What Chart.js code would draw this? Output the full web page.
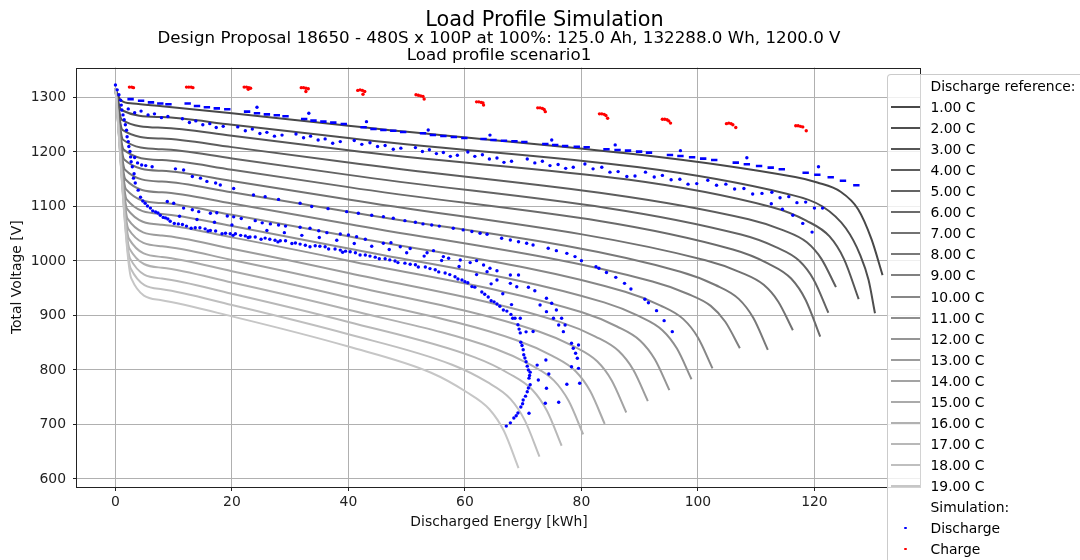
<!DOCTYPE html>
<html><head><meta charset="utf-8">
<script src="https://cdn.jsdelivr.net/npm/chart.js@4.4.1/dist/chart.umd.min.js"></script>
<style>
html,body{margin:0;padding:0;background:#fff;}
body{width:1080px;height:560px;overflow:hidden;position:relative;font-family:'DejaVu Sans',sans-serif;color:#000;}
#c{position:absolute;left:0;top:0;}
.ttl{position:absolute;left:0;text-align:center;white-space:nowrap;color:#000;}
#suptitle{top:6.6px;width:1089px;font-size:20.8px;line-height:24px;}
.sub{width:998px;font-size:16.7px;line-height:20px;}
#legend{position:absolute;left:886.5px;top:74px;width:260px;height:520px;border:1px solid rgba(200,200,200,0.95);border-radius:4px;background:rgba(255,255,255,0.8);}
.row{position:absolute;left:0;height:20px;line-height:20px;font-size:13.9px;white-space:nowrap;width:250px;color:#000;}
.row .txt{position:absolute;left:43px;top:0;}
.row .hl{position:absolute;left:3.5px;width:29px;height:2px;top:9px;}
.row .dot{position:absolute;left:16.9px;top:8.7px;width:2.6px;height:2.6px;border-radius:50%;}
</style></head>
<body>
<canvas id="c" width="1080" height="560"></canvas>
<div id="suptitle" class="ttl">Load Profile Simulation</div>
<div class="ttl sub" style="top:26.9px">Design Proposal 18650 - 480S x 100P at 100%: 125.0 Ah, 132288.0 Wh, 1200.0 V</div>
<div class="ttl sub" style="top:44.2px">Load profile scenario1</div>
<div id="legend"></div>
<script>
// ---------- data ----------
const xTicks = [0, 20, 40, 60, 80, 100, 120];
const yTicks = [600, 700, 800, 900, 1000, 1100, 1200, 1300];
const cRateLabels = ['1.00 C','2.00 C','3.00 C','4.00 C','5.00 C','6.00 C','7.00 C','8.00 C','9.00 C','10.00 C','11.00 C','12.00 C','13.00 C','14.00 C','15.00 C','16.00 C','17.00 C','18.00 C','19.00 C'];

// reference discharge curves: [energy kWh, voltage V]
const curve01 = [[0,1316],[0.9,1295],[3,1289],[8,1284],[20,1271],[40,1248],[116.7,1154],[120.5,1144],[124.5,1127],[127.5,1095],[129.8,1040],[131.7,974]];
const curve02 = [[0,1316],[1.0,1277],[8,1264],[20,1250],[40,1225.5],[115.4,1123],[121.4,1100],[125.4,1060],[127.9,1010],[129.3,965],[130.4,904]];
const curve03 = [[0,1316],[1.1,1259],[8,1244.5],[20,1229.6],[40,1203],[112.6,1099],[118.6,1074],[122.6,1045],[125.1,1003],[127.6,930]];
const curve04 = [[0,1316],[1.2,1240.6],[8,1224.7],[20,1208.9],[40,1180.5],[108.7,1076.6],[114.7,1056.1],[118.7,1034.3],[121.2,1003.9],[123.7,952]];
const curve05 = [[0,1316],[1.3,1222.4],[8,1205],[20,1188.2],[40,1158],[107.4,1048.5],[113.4,1025.4],[117.4,1000.4],[119.9,965.3],[122.4,905]];
const curve06 = [[0,1316],[1.4,1204.3],[8,1185.2],[20,1167.5],[40,1135.5],[106,1021],[112,995.6],[116,967.8],[118.5,928.5],[121,861]];
const curve07 = [[0,1316],[1.5,1186.2],[8,1165.4],[20,1146.8],[40,1113],[101.3,1001.4],[107.3,979.2],[111.3,956.2],[113.8,925.2],[116.3,873]];
const curve08 = [[0,1316],[1.6,1168],[8,1145.7],[20,1126.1],[40,1090.5],[97,980.3],[103,955.9],[107,930.5],[109.5,895.7],[112,837]];
const curve09 = [[0,1316],[1.7,1149.9],[8,1125.9],[20,1105.4],[40,1068],[92.2,962.3],[98.2,939.9],[102.2,917.6],[104.7,888.4],[107.2,840]];
const curve10 = [[0,1316],[1.8,1131.7],[8,1106.2],[20,1084.7],[40,1045.5],[87.5,943.5],[93.5,918.6],[97.5,893.3],[100,859.6],[102.5,803]];
const curve11 = [[0,1316],[1.9,1113.6],[8,1086.4],[20,1064],[40,1023],[83.9,924.1],[89.9,898.7],[93.9,873.1],[96.4,839.3],[98.9,783]];
const curve12 = [[0,1316],[2.0,1095.5],[8,1066.6],[20,1043.3],[40,1000.5],[80.1,905.8],[86.1,879.8],[90.1,853.8],[92.6,819.7],[95.1,763]];
const curve13 = [[0,1316],[2.1,1077.3],[8,1046.9],[20,1022.6],[40,978],[76.4,887.9],[82.4,861.3],[86.4,834.7],[88.9,800.3],[91.4,743]];
const curve14 = [[0,1316],[2.2,1059.2],[8,1027.1],[20,1001.9],[40,955.5],[72.7,870.7],[78.7,843.2],[82.7,815.9],[85.2,780.7],[87.7,722]];
const curve15 = [[0,1316],[2.3,1041],[8,1007.4],[20,981.2],[40,933],[69,854.2],[75,825.8],[79,797.6],[81.5,761.3],[84,701]];
const curve16 = [[0,1316],[2.4,1022.9],[8,987.6],[20,960.5],[40,910.5],[65.3,838.6],[71.3,809.3],[75.3,780.5],[77.8,743.4],[80.3,682]];
const curve17 = [[0,1316],[2.5,1004.8],[8,967.8],[20,939.8],[40,888],[61.6,823.5],[67.6,793.1],[71.6,763.2],[74.1,724.7],[76.6,661]];
const curve18 = [[0,1316],[2.6,986.6],[8,948.1],[20,919.1],[40,865.5],[57.8,809.6],[63.8,778],[67.8,747],[70.3,707.1],[72.8,641]];
const curve19 = [[0,1316],[2.7,968.5],[7.7,928.3],[20,898.4],[40,843],[54.2,795],[60.2,760],[64.2,728],[66.7,688],[69.2,620]];

// simulation: discharge
const dischargeStart = [[0,1323],[0.3,1314],[0.6,1305],[0.9,1295],[1.0,1286],[1.1,1277],[1.3,1268],[1.5,1259],[1.7,1250],[1.9,1240],[2.0,1228],[2.2,1219],[2.3,1210],[2.5,1201],[2.6,1191],[2.7,1182],[2.9,1173],[3.2,1160],[3.3,1190],[3.8,1180],[4.5,1176],[5.2,1175],[3.1,1152]];
const dischargeRowA = [[2.6,1297],[4.4,1294],[6.1,1291],[7.7,1289],[9.1,1287.5],
 [12.4,1289],[14,1284.4],[15.7,1282],[17.4,1280],[19.2,1278.3],
 [22.6,1274],[24.3,1271],[26,1269],[27.7,1267.3],[29.2,1265.5],
 [32.4,1260.6],[34,1257.5],[35.7,1255.6],[37.4,1253.8],[39.2,1251.4],
 [42.6,1245.3],[44.3,1242.2],[46,1240.4],[47.7,1239],[49.4,1236.7],
 [52.8,1234.3],[54.5,1231.2],[56.3,1229.4],[58.1,1227.5],[59.9,1225.7],
 [63.2,1223.9],[64.9,1222],[66.7,1220.7],[68.5,1219.6],[70.2,1218.3],
 [73.8,1214.7],[75.5,1212.8],[77.2,1211],[79.2,1209.7],[80.9,1208.6],
 [84.3,1205],[86.2,1203.7],[88,1202.4],[89.9,1200.6],[91.6,1198.8],
 [95.2,1194.5],[97,1192.7],[99,1190.3],[100.9,1187.8],[102.8,1185.3],
 [106.5,1180.4],[108.4,1177.4],[110.5,1174.3],[112.5,1171.2],[114.4,1168.3],
 [118.5,1162],[120.5,1158.3],[122.8,1153.6],[124.9,1147.3],[127.2,1138.9]];
const dischargeRowATop = [[24.3,1282],[33.2,1271],[43.1,1255.6],[53.7,1240.4],[64.3,1231],[74.9,1222],[85.8,1213],[97,1202.4],[108.4,1189.5],[120.7,1173]];
const dischargeRowB = [[2.2,1279],[3.3,1272],[4.4,1275],[5.6,1268],[6.7,1270],[7.9,1263],[9.0,1265],
 [11.5,1261],[12.7,1254],[13.8,1257],[15.0,1250],[16.2,1252],[17.3,1245],[18.5,1247],
 [21.0,1246],[22.3,1239],[23.5,1242],[24.8,1234],[26.0,1236],[27.3,1229],[28.6,1231],
 [31.0,1233],[32.3,1226],[33.5,1229],[34.8,1222],[36.0,1224],[37.3,1216],[38.6,1219],
 [41.0,1221],[42.3,1214],[43.7,1217],[45.0,1210],[46.3,1212],[47.7,1205],[49.0,1207],
 [51.5,1208],[52.7,1201],[53.9,1204],[55.1,1197],[56.3,1199],[57.5,1192],[58.7,1194],
 [60.5,1200],[61.7,1192],[63.0,1195],[64.2,1187],[65.5,1189],[66.7,1181],[68.0,1183],
 [70.7,1187],[72.0,1180],[73.3,1183],[74.6,1175],[76.0,1177],[77.3,1170],[78.6,1172],
 [80.6,1178],[82.0,1169],[83.5,1172],[84.9,1163],[86.3,1164],[87.8,1155],[89.2,1156],
 [91.0,1163],[92.5,1154],[93.9,1157],[95.4,1149],[96.9,1150],[98.3,1141],[99.8,1142],
 [101.7,1148],[103.2,1139],[104.8,1141],[106.3,1132],[107.9,1133],[109.4,1123],[111.0,1124],
 [112.7,1126],[114.1,1116],[115.6,1118],[117.0,1107],[118.5,1108],[120.0,1097],[121.4,1097],
 [112.6,1105],[114.5,1095],[116.3,1084],[118.0,1069],[119.6,1053]];
const dischargeRowC = [[6.3,1173],[10.3,1169],[11.7,1167],[13.2,1155],[14.6,1152],[15.7,1146],[17.2,1143],[18,1139.5],[20.3,1133],[23.7,1121],[25.7,1118],[28,1113],[31.7,1106],[33.7,1100],[36.5,1096],[39.7,1090.5],[41.7,1087.5],[44,1084],[46,1081.3],[47.7,1078.3],[49.7,1074],[51.5,1071],[52.8,1068],[54.3,1066],[55.6,1064],[58,1060],[59.7,1057],[61.2,1054],[62.6,1051],[63.8,1049],[66.3,1041.6],[67.8,1038.5],[69.2,1035.4],[70.6,1032.5],[71.7,1029.4],[74.3,1023.3],[75.7,1019],[77.5,1014],[78.9,1008],[80,1000.6],[82.5,989.6],[83,986.6],[84.3,979],[85.9,970],[87.4,959],[88.5,948.6],[90.9,929.7],[91.5,923.5],[92.9,908.9],[94.2,890.5],[95.6,870.3]];
const dischargeRowD = [[3.4,1143],[3.9,1130],[4.3,1117],[5.1,1106],[6.0,1097],[6.9,1090],[7.7,1084],[8.6,1079],[9.4,1073],[10.8,1068],[12.2,1064],[13.7,1061],[15.4,1059],[17.2,1055],[18.9,1051],[20.6,1050],[22.3,1046],[24.0,1044],[25.7,1042],[27.4,1038],[29.2,1037],[30.9,1033],[32.6,1029],[34.3,1028],[36.0,1026],[37.7,1022],[39.5,1018],[41.2,1015],[42.9,1011],[44.6,1007],[46.3,1004],[48.0,1000],[49.7,996],[51.5,993],[53.2,989],[54.9,984],[56.6,978],[58.3,971],[59.5,965],[60.5,960],[61.7,952],[62.9,943],[64.0,934],[65.0,925],[66.0,917],[67.2,908],[68.6,895],[69.1,883],[69.5,868],[69.6,851],[70.0,837],[70.3,822],[70.7,807],[71.2,796],[71.0,785],[71.2,773],[70.7,760],[70.0,745],[69.6,732],[69.1,721],[68.4,712],[67.8,703],[67.1,697],
 [5.5,1101],[7.3,1088],[9.0,1077],[11.5,1067],[14.5,1061],[16.3,1056],[19.7,1050],[21.5,1047],[23.1,1044],[26.5,1040],[28.3,1037],[31.7,1031],[35.1,1027],[38.6,1020],[40.3,1017],[43.7,1009],[47.1,1002],[50.6,994],[54.0,986],[57.4,975],[60.0,962],[63.4,939],[65.5,921],[67.9,902],[69.8,845],[70.5,815],[71.1,790],[70.4,752]];
const dischargeRowDExtra = [[4.7,1110],[6.4,1092],[8.2,1080],[10.1,1069],[13.0,1060],[15.9,1055],[18.3,1050],[20.2,1047],[22.8,1043],[25.0,1040],[27.9,1035],[30.3,1032],[33.4,1026],[36.6,1022],[39.0,1016],[42.0,1011],[45.3,1004],[48.5,997],[52.0,989],[55.5,980],[58.8,967],[61.2,953],[64.5,927],[66.6,910],[68.2,895],[69.3,875],[70.1,828],[70.9,800],[70.9,767],[69.9,738],[68.8,716]];
const dischargeRowD2 = [[8.9,1109],[10.0,1106],[11.7,1097],[13.2,1094],[14.3,1090.5],[16.3,1087.5],[17.4,1088.6],[19.2,1082.6],[20.3,1081],[21.6,1078],[24.0,1074],[25.2,1070],[26.6,1068],[28.0,1066],[29.2,1064],[31.7,1061.8],[33.4,1060],[34.9,1055.6],[36.3,1052],[38.6,1049.5],[40.0,1047.7],[41.4,1044.6],[42.9,1040],[46.0,1032.5],[47.3,1033.6],[48.9,1026],[50.6,1023],[53.5,1015],[54.6,1019],[56.3,1008],[57.2,1005],[59.2,1001.8],[60.9,997],[62.0,1000.6],[63.2,992.7],[63.8,980.4],[64.3,986.7],[65.5,982.2],[65.5,965],[67.8,974.3],[69.2,974.3]];
const dischargeRowD3 = [[11,1082],[14,1076],[17,1071],[20,1066],[23,1061],[26,1056],[29,1052],[32,1047],[35,1043],[38,1038],[41,1032],[44,1027],[47,1021],[50,1015],[53,1009],[56,1001],[59,990],[62,975],[64.5,958],[66.5,940],[68,920],[69.5,895],[70.5,870]];
const dischargeTail = [[68.9,952.8],[70.9,951.8],[67.8,959],[72.0,945.5],[72.9,919.3],[74.0,931.6],[74.0,907],[74.9,922.4],[75.7,910],[75.2,895],[76.1,882.6],[76.6,895],[77.2,882.6],[76.9,870.3],[78.3,849],[78.6,839.8],[79.5,845.9],[79.0,830.6],[79.3,821.5],[78.3,806],[79.5,803],[77.5,773.8],[79.7,775.6],[76.1,740.7],[73.8,738.9],[74.0,766.4],[74.4,792.7],[72.6,781.6],[73.9,818.3],[72.4,809],[71.7,870.5],[71.0,720.6]];

// simulation: charge
const chargePoints = [[2.4,1319],[2.8,1319],[3.1,1318],
 [12.2,1319],[12.6,1319],[13.0,1319],[13.3,1318],
 [22.1,1319],[22.5,1319],[22.9,1318],[23.2,1317],[22.8,1315],
 [31.9,1318],[32.3,1318],[32.7,1317],[33.1,1316],[32.7,1311],
 [41.6,1313],[42.0,1314],[42.4,1313],[42.8,1311],[42.5,1306],
 [51.6,1305],[52.0,1304],[52.4,1303],[52.8,1302],[53.0,1297],
 [62.0,1292],[62.4,1292],[62.8,1291],[63.1,1290],[63.2,1286],
 [72.5,1281],[72.9,1281],[73.3,1280],[73.6,1278],[73.8,1274],
 [83.1,1270],[83.5,1270],[83.9,1269],[84.2,1267],[84.5,1262],
 [93.9,1260],[94.3,1260],[94.7,1259],[95.0,1257],[95.3,1253],
 [104.9,1252],[105.3,1253],[105.7,1252],[106.0,1250],[106.5,1245],
 [116.8,1248],[117.2,1248],[117.6,1247],[118.0,1246],[118.6,1239]];

// ---------- styles ----------
const curveColors = ['rgb(72,72,72)','rgb(79,79,79)','rgb(86,86,86)','rgb(93,93,93)','rgb(100,100,100)','rgb(107,107,107)','rgb(114,114,114)','rgb(121,121,121)','rgb(128,128,128)','rgb(135,135,135)','rgb(142,142,142)','rgb(149,149,149)','rgb(156,156,156)','rgb(163,163,163)','rgb(170,170,170)','rgb(177,177,177)','rgb(184,184,184)','rgb(191,191,191)','rgb(198,198,198)'];
const BLUE = '#0000ff', RED = '#ff0000';

const curves = [curve01,curve02,curve03,curve04,curve05,curve06,curve07,curve08,curve09,curve10,curve11,curve12,curve13,curve14,curve15,curve16,curve17,curve18,curve19];
const xy = a => a.map(p => ({x: p[0], y: p[1]}));

const datasets = [];
const dotSets = [dischargeStart, dischargeRowATop, dischargeRowB, dischargeRowC, dischargeRowD, dischargeRowDExtra, dischargeRowD2, dischargeRowD3, dischargeTail];
dotSets.forEach(a => datasets.push({label: 'Discharge', data: xy(a), showLine: false, pointStyle: 'circle', pointRadius: 1.7, pointBorderWidth: 0, backgroundColor: BLUE, borderColor: BLUE, order: 0}));
datasets.push({label: 'Discharge', data: xy(dischargeRowA), showLine: false, pointStyle: 'line', pointRadius: 3.2, borderWidth: 2.6, borderColor: BLUE, backgroundColor: BLUE, order: 0});
datasets.push({label: 'Charge', data: xy(chargePoints), showLine: false, pointStyle: 'circle', pointRadius: 1.7, pointBorderWidth: 0, backgroundColor: RED, borderColor: RED, order: 0});
curves.forEach((c, i) => datasets.push({label: cRateLabels[i], data: xy(c), showLine: true, borderColor: curveColors[i], backgroundColor: curveColors[i], borderWidth: 2, pointRadius: 0, cubicInterpolationMode: 'monotone', fill: false, order: 2 + (18 - i) * 0.01}));

const framePlugin = {
  id: 'frame',
  afterDatasetsDraw(chart) {
    const {ctx, chartArea: a} = chart;
    ctx.save();
    ctx.strokeStyle = '#222';
    ctx.lineWidth = 1;
    ctx.strokeRect(Math.round(a.left) - 0.5, Math.round(a.top) + 0.5, Math.round(a.right - a.left), Math.round(a.bottom - a.top) - 1);
    ctx.restore();
  }
};

Chart.defaults.font.family = "'DejaVu Sans', sans-serif";
Chart.defaults.font.size = 13.9;
Chart.defaults.color = '#222';

new Chart(document.getElementById('c'), {
  type: 'scatter',
  data: {datasets},
  options: {
    responsive: false, animation: false, devicePixelRatio: 1,
    layout: {padding: {left: 0, top: 67.5, right: 159, bottom: 0}},
    plugins: {legend: {display: false}, tooltip: {enabled: false}, title: {display: false}},
    scales: {
      x: {
        type: 'linear', min: -6.6, max: 138.3,
        afterFit: s => { s.height = 73; },
        afterBuildTicks: s => { s.ticks = xTicks.map(v => ({value: v})); },
        grid: {color: '#b0b0b0', lineWidth: 1, tickColor: '#222', tickLength: 4, tickWidth: 1},
        border: {display: false},
        ticks: {padding: 3.5, color: '#222', maxRotation: 0, autoSkip: false, callback: v => String(v)},
        title: {display: true, text: 'Discharged Energy [kWh]', color: '#111', font: {size: 13.9}, padding: {top: 0, bottom: 29.6}}
      },
      y: {
        type: 'linear', min: 585.3, max: 1355,
        afterFit: s => { s.width = 77; },
        afterBuildTicks: s => { s.ticks = yTicks.map(v => ({value: v})); },
        grid: {color: '#b0b0b0', lineWidth: 1, tickColor: '#222', tickLength: 4, tickWidth: 1},
        border: {display: false},
        ticks: {padding: 7, color: '#222', autoSkip: false, callback: v => String(v)},
        title: {display: true, text: 'Total Voltage [V]', color: '#111', font: {size: 13.9}, padding: {top: 9.2, bottom: 0}}
      }
    }
  },
  plugins: [framePlugin]
});

// ---------- legend (HTML) ----------
const legend = document.getElementById('legend');
const rows = [{text: 'Discharge reference:'}];
cRateLabels.forEach((t, i) => rows.push({text: t, line: curveColors[i]}));
rows.push({text: 'Simulation:'});
rows.push({text: 'Discharge', dot: BLUE});
rows.push({text: 'Charge', dot: RED});
rows.forEach((r, i) => {
  const d = document.createElement('div');
  d.className = 'row';
  d.style.top = (1 + 21.05 * i) + 'px';
  if (r.line) { const h = document.createElement('span'); h.className = 'hl'; h.style.background = r.line; d.appendChild(h); }
  if (r.dot) { const h = document.createElement('span'); h.className = 'dot'; h.style.background = r.dot; d.appendChild(h); }
  const t = document.createElement('span'); t.className = 'txt'; t.textContent = r.text; d.appendChild(t);
  legend.appendChild(d);
});
</script>
</body></html>
